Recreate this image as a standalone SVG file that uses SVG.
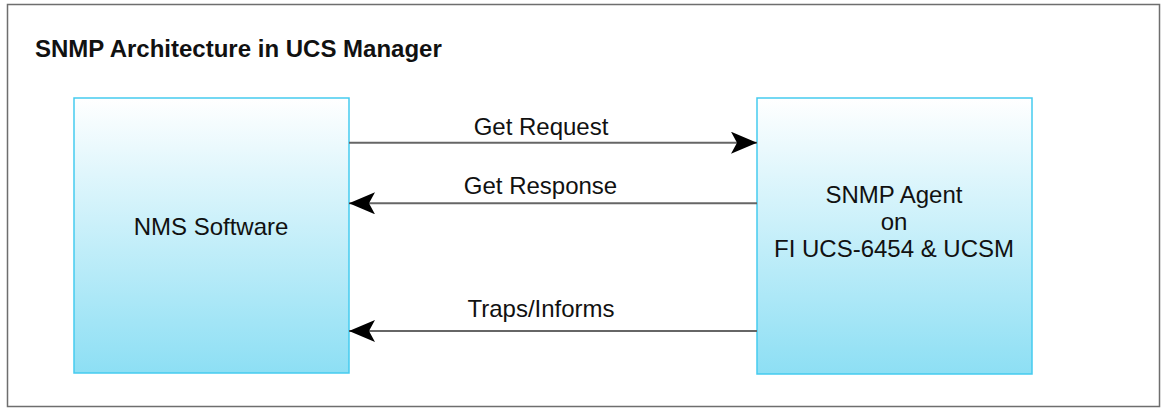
<svg xmlns="http://www.w3.org/2000/svg" width="1165" height="409" viewBox="0 0 1165 409">
<defs>
<linearGradient id="boxfill" x1="0" y1="0" x2="0" y2="1">
<stop offset="0" stop-color="#ffffff"/>
<stop offset="1" stop-color="#8ddff4"/>
</linearGradient>
<marker id="arrow" viewBox="0 0 26 22" refX="26" refY="11" markerWidth="26" markerHeight="22" markerUnits="userSpaceOnUse" orient="auto">
<path d="M0,0 L26,11 L0,22 L6,11 Z" fill="#000"/>
</marker>
<style>
.frame{fill:#fff;stroke:#6e6e6e;stroke-width:1.5}
.box{fill:url(#boxfill);stroke:#45cbef;stroke-width:1.5}
.lbl{font-family:"Liberation Sans",Arial,sans-serif;font-size:24px;fill:#111;text-anchor:middle}
.title{font-family:"Liberation Sans",Arial,sans-serif;font-size:24px;font-weight:bold;fill:#111}
.conn{stroke:#666;stroke-width:2;fill:none}
</style>
</defs>
<rect class="frame" x="7.5" y="4.5" width="1152" height="402"/>
<text class="title" x="35" y="57">SNMP Architecture in UCS Manager</text>
<g id="nms">
<rect class="box" x="74" y="98" width="275" height="275"/>
<text class="lbl" x="211" y="235">NMS Software</text>
</g>
<g id="agent">
<rect class="box" x="757" y="98" width="275" height="276"/>
<text class="lbl" x="894" y="203">SNMP Agent</text>
<text class="lbl" x="894" y="230">on</text>
<text class="lbl" x="894" y="257">FI UCS-6454 &amp; UCSM</text>
</g>
<g id="connectors">
<line class="conn" x1="349" y1="142.7" x2="757" y2="142.7" marker-end="url(#arrow)"/>
<text class="lbl" x="541" y="135">Get Request</text>
<line class="conn" x1="757" y1="203.3" x2="349" y2="203.3" marker-end="url(#arrow)"/>
<text class="lbl" x="540.5" y="194">Get Response</text>
<line class="conn" x1="757" y1="331" x2="349" y2="331" marker-end="url(#arrow)"/>
<text class="lbl" x="541" y="317">Traps/Informs</text>
</g>
</svg>
